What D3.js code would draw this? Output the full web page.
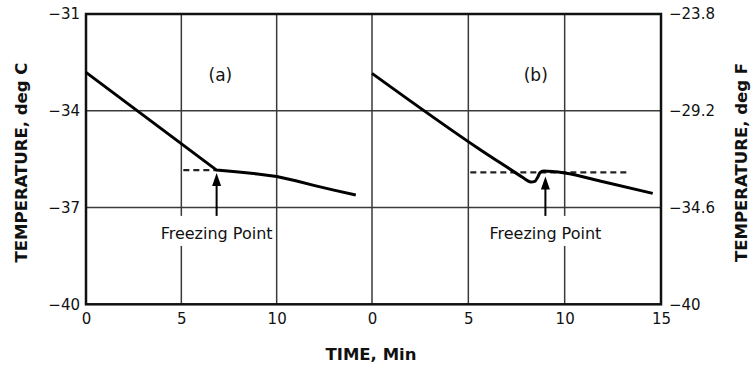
<!DOCTYPE html>
<html>
<head>
<meta charset="utf-8">
<script src="https://cdn.jsdelivr.net/npm/d3@7"></script>
<style>
  body { margin: 0; background: #fff; }
  text { font-family: "DejaVu Sans", Verdana, sans-serif; fill: #111; }
</style>
</head>
<body>
<script>
// panel (a): cooling curve, no supercooling
var timeA = [0, 6.85, 8, 9, 10, 11, 12, 13, 14.15];
var tempA = [-32.81, -35.84, -35.9, -35.96, -36.04, -36.17, -36.32, -36.46, -36.61];
// panel (b): cooling curve with supercooling dip
var timeB = [0, 5.6, 7.85, 8.05, 8.25, 8.45, 8.6, 8.72, 8.9, 10, 12, 14.57];
var tempB = [-32.84, -35.2, -36.08, -36.16, -36.21, -36.19, -36.06, -35.92, -35.87, -35.93, -36.2, -36.56];

var freezeTemp = [-35.84, -35.91];      // dashed freezing level, a and b
var freezeSpan = [[5, 6.85], [5, 13.3]]; // time range of dashed line
var arrowTime = [6.85, 9.0];
var panelNames = ["(a)", "(b)"];

var xTicksA = [0, 5, 10];
var xTicksB = [0, 5, 10, 15];
var yTicksC = [-31, -34, -37, -40];
var yLabelsC = ["\u221231", "\u221234", "\u221237", "\u221240"];
var yTicksF = [-23.8, -29.2, -34.6, -40];
var yLabelsF = ["\u221223.8", "\u221229.2", "\u221234.6", "\u221240"];

var W = 751, H = 366;
var plotL = 86, plotMid = 372, plotR = 661, plotT = 14, plotB = 304.3;

var svg = d3.select("body").append("svg")
    .attr("width", W)
    .attr("height", H);

var xA = d3.scaleLinear().domain([0, 15]).range([plotL, plotMid]);
var xB = d3.scaleLinear().domain([0, 15]).range([plotMid, plotR]);
var y = d3.scaleLinear().domain([-40, -31]).range([plotB, plotT]);
var yF = d3.scaleLinear().domain([-40, -23.8]).range([plotB, plotT]);

var gridColor = "#3a3a3a";

// gridlines
var grid = svg.append("g").attr("class", "grid");
[-34, -37].forEach(function(v) {
    grid.append("line")
        .attr("x1", plotL).attr("x2", plotR)
        .attr("y1", y(v)).attr("y2", y(v))
        .attr("stroke", gridColor).attr("stroke-width", 1.5);
});
[xA(5), xA(10), plotMid, xB(5), xB(10)].forEach(function(px) {
    grid.append("line")
        .attr("x1", px).attr("x2", px)
        .attr("y1", plotT).attr("y2", plotB)
        .attr("stroke", gridColor).attr("stroke-width", 1.5);
});

// frame
svg.append("rect")
    .attr("x", plotL).attr("y", plotT)
    .attr("width", plotR - plotL).attr("height", plotB - plotT)
    .attr("fill", "none").attr("stroke", "#111").attr("stroke-width", 2.5);

// axes (labels only)
function styleAxis(g) {
    g.select(".domain").remove();
    g.selectAll("text").style("font-size", "15px").attr("fill", "#111");
}
svg.append("g")
    .attr("transform", "translate(" + plotL + ",0)")
    .call(d3.axisLeft(y).tickValues(yTicksC).tickSize(0).tickPadding(6)
        .tickFormat(function(d, i) { return yLabelsC[i]; }))
    .call(styleAxis);
svg.append("g")
    .attr("transform", "translate(" + plotR + ",0)")
    .call(d3.axisRight(yF).tickValues(yTicksF).tickSize(0).tickPadding(8)
        .tickFormat(function(d, i) { return yLabelsF[i]; }))
    .call(styleAxis);
svg.append("g")
    .attr("transform", "translate(0," + plotB + ")")
    .call(d3.axisBottom(xA).tickValues(xTicksA).tickSize(0).tickPadding(9))
    .call(styleAxis);
svg.append("g")
    .attr("transform", "translate(0," + plotB + ")")
    .call(d3.axisBottom(xB).tickValues(xTicksB).tickSize(0).tickPadding(9))
    .call(styleAxis);

// axis titles
svg.append("text")
    .attr("transform", "translate(21,162.5) rotate(-90)")
    .attr("text-anchor", "middle").attr("dominant-baseline", "central")
    .style("font-size", "16.5px").style("font-weight", "bold")
    .text("TEMPERATURE, deg C");
svg.append("text")
    .attr("transform", "translate(741.5,162.5) rotate(-90)")
    .attr("text-anchor", "middle").attr("dominant-baseline", "central")
    .style("font-size", "16.5px").style("font-weight", "bold")
    .text("TEMPERATURE, deg F");
svg.append("text")
    .attr("x", 371).attr("y", 360)
    .attr("text-anchor", "middle")
    .style("font-size", "16.5px").style("font-weight", "bold")
    .text("TIME, Min");

var scales = [xA, xB];

// dashed freezing levels
scales.forEach(function(x, i) {
    svg.append("line")
        .attr("x1", x(freezeSpan[i][0]) + 2).attr("x2", x(freezeSpan[i][1]))
        .attr("y1", y(freezeTemp[i])).attr("y2", y(freezeTemp[i]))
        .attr("stroke", "#222").attr("stroke-width", 2.2)
        .attr("stroke-dasharray", "6,4");
});

// curves
svg.append("path")
    .attr("d", d3.line()
        .x(function(d, i) { return xA(timeA[i]); })
        .y(function(d) { return y(d); })(tempA))
    .attr("fill", "none").attr("stroke", "#000").attr("stroke-width", 3)
    .attr("stroke-linejoin", "round");
svg.append("path")
    .attr("d", d3.line()
        .curve(d3.curveMonotoneX)
        .x(function(d, i) { return xB(timeB[i]); })
        .y(function(d) { return y(d); })(tempB))
    .attr("fill", "none").attr("stroke", "#000").attr("stroke-width", 3)
    .attr("stroke-linejoin", "round");

// freezing point callouts
var tipTemp = [-35.93, -36.04];
scales.forEach(function(x, i) {
    var ax = x(arrowTime[i]);
    var tipY = y(tipTemp[i]);
    var baseY = y(-37.26);
    var label = svg.append("text")
        .attr("x", ax).attr("y", baseY + 23)
        .attr("text-anchor", "middle")
        .style("font-size", "16px")
        .text("Freezing Point");
    var bb = label.node().getBBox();
    // white box behind label, breaks the gridlines
    svg.insert("rect", function() { return label.node(); })
        .attr("x", bb.x - 2).attr("y", baseY)
        .attr("width", bb.width + 4).attr("height", 30)
        .attr("fill", "#fff");
    svg.append("line")
        .attr("x1", ax).attr("x2", ax)
        .attr("y1", baseY).attr("y2", tipY + 10)
        .attr("stroke", "#000").attr("stroke-width", 2);
    svg.append("path")
        .attr("d", "M" + ax + "," + tipY + "L" + (ax - 4.5) + "," + (tipY + 13) +
            "L" + (ax + 4.5) + "," + (tipY + 13) + "Z")
        .attr("fill", "#000");
});

// panel labels
scales.forEach(function(x, i) {
    svg.append("text")
        .attr("x", x(i === 0 ? 7.05 : 8.5)).attr("y", y(-32.89))
        .attr("text-anchor", "middle").attr("dominant-baseline", "central")
        .style("font-size", "17px")
        .text(panelNames[i]);
});
</script>
</body>
</html>
